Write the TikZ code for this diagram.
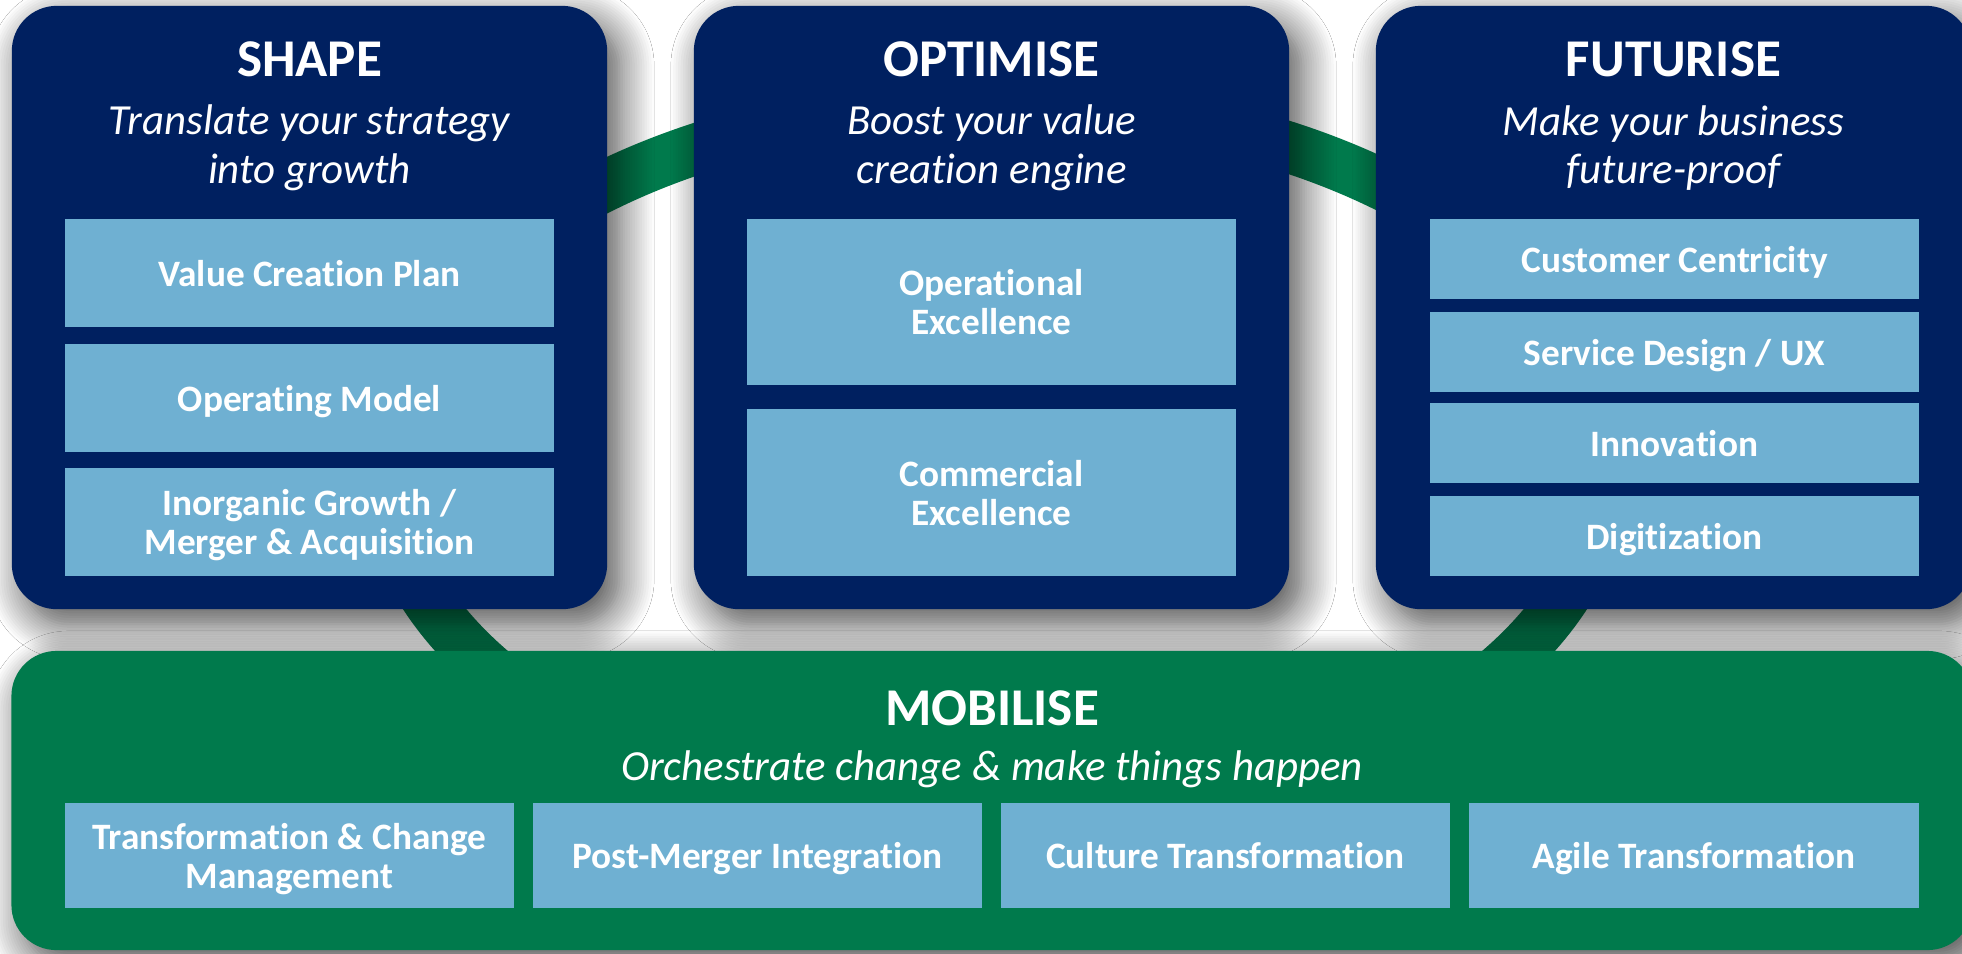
\documentclass[tikz,border=0pt]{standalone}
\usepackage{xcolor}
\usepackage{tikz}
\usepackage{fontspec}
\setmainfont{Carlito}[Ligatures=NoCommon]
\usetikzlibrary{shadows.blur}
\definecolor{pillarcolor}{HTML}{002060}
\definecolor{itemcolor}{HTML}{6FB0D2}
\definecolor{mobilisecolor}{HTML}{007A4C}

\tikzset{
  pillarbox/.style={rectangle, rounded corners=0.45cm, fill=pillarcolor, draw=none, blur shadow={shadow xshift=0.12cm, shadow yshift=-0.15cm, shadow blur radius=0.35cm, shadow blur steps=15, shadow opacity=72}},
  mobilisebox/.style={pillarbox, fill=mobilisecolor},
  itembox/.style={rectangle, fill=itemcolor, draw=none, text=white, align=center, text depth=0pt, font=\bfseries\fontsize{10.6pt}{11.1pt}\selectfont},
  titletext/.style={text=white, font=\bfseries\fontsize{15.1pt}{18pt}\selectfont},
  subtext/.style={text=white, align=center, font=\itshape\fontsize{12.2pt}{13.9pt}\selectfont}
}

\begin{document}
\begin{tikzpicture}[x=0.01cm, y=-0.01cm]%
\useasboundingbox[fill=white] (0, 0) rectangle (1962, 953);%
\draw[mobilisecolor, line width=0.51cm] (995, 465) ellipse [x radius=6.11cm, y radius=3.62cm];%
\node[pillarbox, minimum width=5.95cm, minimum height=6.03cm] (shape) at (309.5, 307.5) {};%
\node[pillarbox, minimum width=5.95cm, minimum height=6.03cm] (optimise) at (991.5, 307.5) {};%
\node[pillarbox, minimum width=5.95cm, minimum height=6.03cm] (futurise) at (1673.5, 307.5) {};%
\node[mobilisebox, minimum width=19.6cm, minimum height=2.99cm] (mobilise) at (992, 800.5) {};%
\node[titletext] (shapetitle) at (309.5, 59) {SHAPE};%
\node[subtext] (shapesub) at (309.5, 148) {Translate your strategy\\into growth};%
\node[titletext] (optimisetitle) at (991.5, 59) {OPTIMISE};%
\node[subtext] (optimisesub) at (991.5, 148) {Boost your value\\creation engine};%
\node[titletext] (futurisetitle) at (1673.5, 59) {FUTURISE};%
\node[subtext] (futurisesub) at (1673.5, 148) {Make your business\\future-proof};%
\node[titletext] (mobilisetitle) at (992, 708) {MOBILISE};%
\node[subtext] (mobilisesub) at (992, 769) {Orchestrate change \& make things happen};%
\node[itembox, minimum width=4.89cm, minimum height=1.08cm] (vcp) at (309.5, 273) {Value Creation Plan};%
\node[itembox, minimum width=4.89cm, minimum height=1.08cm] (opmodel) at (309.5, 398) {Operating Model};%
\node[itembox, minimum width=4.89cm, minimum height=1.08cm] (inorganic) at (309.5, 522) {Inorganic Growth /\\Merger \& Acquisition};%
\node[itembox, minimum width=4.89cm, minimum height=1.66cm] (opex) at (991.5, 302) {Operational\\Excellence};%
\node[itembox, minimum width=4.89cm, minimum height=1.67cm] (comex) at (991.5, 492.5) {Commercial\\Excellence};%
\node[itembox, minimum width=4.89cm, minimum height=0.8cm] (customer) at (1674.5, 259) {Customer Centricity};%
\node[itembox, minimum width=4.89cm, minimum height=0.8cm] (service) at (1674.5, 352) {Service Design / UX};%
\node[itembox, minimum width=4.89cm, minimum height=0.8cm] (innovation) at (1674.5, 443) {Innovation};%
\node[itembox, minimum width=4.89cm, minimum height=0.8cm] (digital) at (1674.5, 536) {Digitization};%
\node[itembox, minimum width=4.49cm, minimum height=1.05cm] (change) at (289.5, 855.5) {Transformation \& Change\\Management};%
\node[itembox, minimum width=4.49cm, minimum height=1.05cm] (pmi) at (757.5, 855.5) {Post-Merger Integration};%
\node[itembox, minimum width=4.49cm, minimum height=1.05cm] (culture) at (1225.5, 855.5) {Culture Transformation};%
\node[itembox, minimum width=4.5cm, minimum height=1.05cm] (agile) at (1694, 855.5) {Agile Transformation};%
\end{tikzpicture}
\end{document}
